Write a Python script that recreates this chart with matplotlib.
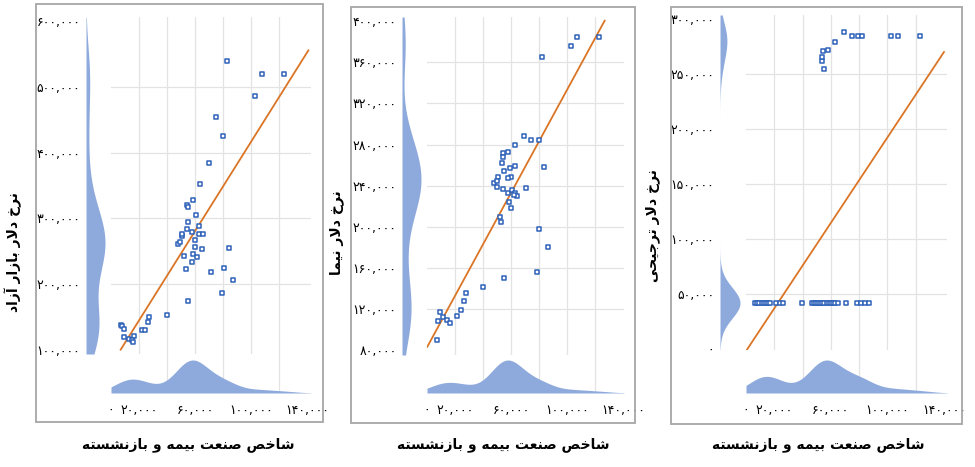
import numpy as np
import matplotlib
matplotlib.use('Agg')
import matplotlib.pyplot as plt
from matplotlib.patches import Rectangle

plt.rcParams['font.family'] = ['DejaVu Sans']

# ---------------- data ----------------
x_title = 'شاخص صنعت بیمه و بازنشسته'
y_titles = ['نرخ دلار بازار آزاد', 'نرخ دلار نیما', 'نرخ دلار ترجیحی']

p1_x = [7100, 8100, 9500, 9500, 13100, 16200, 14800, 15700, 21900, 24300, 26200, 27400, 40200,
        54800, 79300, 87100, 80700, 71200, 84000, 53300, 57600, 52100, 58600, 61700, 59800, 65000,
        47600, 49300, 50700, 50900, 59800, 57900, 63100, 65500, 54000, 62600, 55000, 60700, 54000, 55200, 58600,
        63300, 69800, 80200, 75000, 102900, 82600, 108000, 123600]
p1_y = [138000, 136500, 131500, 120000, 117000, 121000, 114000, 112000, 130000, 130000, 142000, 149000, 152800,
        173600, 186800, 206000, 224000, 218800, 255000, 223000, 234000, 242000, 245600, 241600, 256000, 252700,
        261400, 264500, 272500, 276600, 267500, 279000, 276000, 276000, 283000, 289000, 295000, 304500, 319700, 317000, 328400,
        353000, 385000, 425000, 454000, 487000, 540000, 520000, 520000]

p2_x = [122800, 107000, 102500, 82000, 69300, 74600, 79800, 63100, 58100, 54300,
        54000, 53500, 63100, 59500, 55200, 60200, 58100, 50400, 47800, 50200,
        49700, 54000, 57600, 60900, 63100, 64500, 61900, 70800, 83700,
        58300, 59700, 52100, 52800, 80300, 86500, 78600, 54700, 39900, 27500,
        26300, 24200, 21500, 9300, 7700, 11300, 14300, 16300, 7000]
p2_y = [385000, 385000, 375600, 365500, 288300, 284400, 284400, 279800, 272400, 271400,
        268000, 261700, 259400, 256800, 254200, 248400, 247000, 248700, 242800, 244700,
        238300, 236700, 233000, 235700, 233000, 230000, 230800, 237300, 258000,
        223700, 217900, 209700, 204200, 197400, 180500, 156200, 150400, 141600, 135800,
        127400, 119200, 113100, 116700, 108200, 111800, 109200, 106600, 89700]

p3_x = [55100, 53700, 53900, 54200, 58000, 62900, 69300, 74700, 79400, 81800, 102500, 107200, 123000,
        6500, 8000, 9500, 11000, 12500, 14000, 15500, 17000, 21500, 24000, 26500, 39500,
        46500, 48000, 49500, 51000, 52500, 54000, 55500, 57000, 58500, 60000, 61500, 63000, 65000,
        70700, 78700, 81400, 84100, 86900]
p3_y = [254300, 261800, 265700, 271200, 272000, 279000, 288000, 285000, 285000, 285000, 285000, 285000, 285000,
        42000, 42000, 42000, 42000, 42000, 42000, 42000, 42000, 42000, 42000, 42000, 42000,
        42000, 42000, 42000, 42000, 42000, 42000, 42000, 42000, 42000, 42000, 42000, 42000, 42000,
        42000, 42000, 42000, 42000, 42000]

fit1_x = [6900, 141000]
fit1_y = [100000, 555800]
fit2_x = [200, 126900]
fit2_y = [83200, 400500]
fit3_x = [500, 140000]
fit3_y = [-900, 270000]

x_tick_vals = [0, 20000, 60000, 100000, 140000]
x_grid_vals = [20000, 40000, 60000, 80000, 100000, 120000]
p1_ytick_vals = [100000, 200000, 300000, 400000, 500000, 600000]
p1_ygrid_vals = [200000, 300000, 400000, 500000]
p2_ytick_vals = [80000, 120000, 160000, 200000, 240000, 280000, 320000, 360000, 400000]
p2_ygrid_vals = [120000, 160000, 200000, 240000, 280000, 320000, 360000]
p3_ytick_vals = [0, 50000, 100000, 150000, 200000, 250000, 300000]
p3_ygrid_vals = [50000, 100000, 150000, 200000, 250000]

# ---------------- helpers ----------------
FORMS = {
    'ا': ('\uFE8D', '\uFE8E', None, None),
    'آ': ('\uFE81', '\uFE82', None, None),
    'ب': ('\uFE8F', '\uFE90', '\uFE91', '\uFE92'),
    'ت': ('\uFE95', '\uFE96', '\uFE97', '\uFE98'),
    'ج': ('\uFE9D', '\uFE9E', '\uFE9F', '\uFEA0'),
    'ح': ('\uFEA1', '\uFEA2', '\uFEA3', '\uFEA4'),
    'خ': ('\uFEA5', '\uFEA6', '\uFEA7', '\uFEA8'),
    'د': ('\uFEA9', '\uFEAA', None, None),
    'ر': ('\uFEAD', '\uFEAE', None, None),
    'ز': ('\uFEAF', '\uFEB0', None, None),
    'س': ('\uFEB1', '\uFEB2', '\uFEB3', '\uFEB4'),
    'ش': ('\uFEB5', '\uFEB6', '\uFEB7', '\uFEB8'),
    'ص': ('\uFEB9', '\uFEBA', '\uFEBB', '\uFEBC'),
    'ع': ('\uFEC9', '\uFECA', '\uFECB', '\uFECC'),
    'ل': ('\uFEDD', '\uFEDE', '\uFEDF', '\uFEE0'),
    'م': ('\uFEE1', '\uFEE2', '\uFEE3', '\uFEE4'),
    'ن': ('\uFEE5', '\uFEE6', '\uFEE7', '\uFEE8'),
    'ه': ('\uFEE9', '\uFEEA', '\uFEEB', '\uFEEC'),
    'و': ('\uFEED', '\uFEEE', None, None),
    'ی': ('\uFBFC', '\uFBFD', '\uFBFE', '\uFBFF'),
}
LAM_ALEF = {'ا': ('\uFEFB', '\uFEFC'), 'آ': ('\uFEF5', '\uFEF6')}


def shape(text):
    chars = list(text)
    n = len(chars)
    out = []

    def joins_next(c):
        f = FORMS.get(c)
        return f is not None and f[2] is not None

    i = 0
    while i < n:
        c = chars[i]
        if c not in FORMS:
            out.append(c)
            i += 1
            continue
        pj = i > 0 and joins_next(chars[i - 1])
        if c == 'ل' and i + 1 < n and chars[i + 1] in LAM_ALEF:
            lig = LAM_ALEF[chars[i + 1]]
            out.append(lig[1] if pj else lig[0])
            i += 2
            continue
        nj = FORMS[c][2] is not None and i + 1 < n and chars[i + 1] in FORMS
        iso, fin, ini, med = FORMS[c]
        if pj and nj:
            g = med
        elif pj:
            g = fin
        elif nj:
            g = ini
        else:
            g = iso
        out.append(g)
        i += 1
    return ''.join(reversed(out))


FA = str.maketrans('0123456789', '۰۱۲۳۴۵۶۷۸۹')


def fa_num(v):
    return f'{int(v):,}'.translate(FA)


def kde(vals, grid, bw):
    v = np.asarray(vals, float)
    return np.exp(-0.5 * ((grid[:, None] - v[None, :]) / bw) ** 2).sum(axis=1)


W, H = 975, 467
fig = plt.figure(figsize=(W / 100, H / 100), dpi=100)


def add_px(x0, y0, x1, y1):
    return fig.add_axes([x0 / W, 1 - y1 / H, (x1 - x0) / W, (y1 - y0) / H])


def calib(a_px, a_val, b_px, b_val, p0, p1):
    s = (b_val - a_val) / (b_px - a_px)
    return a_val + (p0 - a_px) * s, a_val + (p1 - a_px) * s


BLUE = '#2e62b8'
ORANGE = '#db7526'
FILL = '#8eaadc'
GRID = '#e3e3e3'
FRAME = '#a6a6a6'

panels = [
    dict(x=p1_x, y=p1_y, fx=fit1_x, fy=fit1_y, yt=p1_ytick_vals, yg=p1_ygrid_vals,
         frame=(36, 4, 323, 422), main=(111, 17, 311, 354), left=86, bot=393,
         xa=(139, 20000, 279, 120000), ya=(284, 200000, 87, 500000),
         bwy=40000, lw_px=19, title_x=188, ytitle=(13, 252)),
    dict(x=p2_x, y=p2_y, fx=fit2_x, fy=fit2_y, yt=p2_ytick_vals, yg=p2_ygrid_vals,
         frame=(351, 7, 635, 423), main=(427, 17, 624, 355), left=402, bot=393,
         xa=(455, 20000, 595, 120000), ya=(309, 120000, 62.3, 360000),
         bwy=28000, lw_px=19, title_x=503, ytitle=(337, 233)),
    dict(x=p3_x, y=p3_y, fx=fit3_x, fy=fit3_y, yt=p3_ytick_vals, yg=p3_ygrid_vals,
         frame=(671, 7, 962, 424), main=(746, 15, 947, 350), left=720, bot=393,
         xa=(774.3, 20000, 915.7, 120000), ya=(294, 50000, 74, 250000),
         bwy=14000, lw_px=20, title_x=818, ytitle=(653, 226)),
]

for k, P in enumerate(panels):
    fx0, fy0, fx1, fy1 = P['frame']
    fig.add_artist(Rectangle((fx0 / W, 1 - fy1 / H), (fx1 - fx0) / W, (fy1 - fy0) / H,
                             transform=fig.transFigure, fill=False, edgecolor=FRAME, lw=1.3))
    mx0, my0, mx1, my1 = P['main']
    xl = calib(*P['xa'], mx0, mx1)
    yl = calib(*P['ya'], my1, my0)

    # main scatter axes
    axm = add_px(mx0, my0, mx1, my1)
    axm.set_xlim(xl)
    axm.set_ylim(yl)
    axm.set_xticks([])
    axm.set_yticks([])
    axm.set_xticks(x_grid_vals, minor=True)
    axm.set_yticks(P['yg'], minor=True)
    axm.grid(which='minor', color=GRID, lw=0.9)
    axm.tick_params(which='both', length=0, labelbottom=False, labelleft=False)
    for s in axm.spines.values():
        s.set_visible(False)
    axm.patch.set_alpha(0)
    axm.plot(P['fx'], P['fy'], color=ORANGE, lw=1.3, zorder=2)
    axm.scatter(P['x'], P['y'], marker='s', s=8, facecolor='white', edgecolor=BLUE,
                linewidths=1.1, zorder=3)

    # left density
    axl = add_px(P['left'], my0, mx0, my1)
    axl.set_axisbelow(True)
    axl.set_ylim(yl)
    yy = np.linspace(yl[0], yl[1], 500)
    ky = kde(P['y'], yy, P['bwy'])
    axl.fill_betweenx(yy, 0, ky, color=FILL, lw=0)
    axl.set_xlim(0, ky.max() * (mx0 - P['left']) / P['lw_px'])
    axl.set_xticks([])
    axl.set_yticks(P['yt'])
    axl.set_yticklabels([fa_num(v) for v in P['yt']], fontsize=9)
    axl.set_yticks(P['yg'], minor=True)
    axl.grid(which='minor', axis='y', color=GRID, lw=0.9)
    axl.tick_params(which='both', length=0, pad=4)
    for s in axl.spines.values():
        s.set_visible(False)
    axl.patch.set_alpha(0)

    # bottom density
    axb = add_px(mx0, my1, mx1, P['bot'])
    axb.set_axisbelow(True)
    axb.set_xlim(xl)
    xx = np.linspace(xl[0], xl[1], 500)
    kx = kde(P['x'], xx, 10000)
    axb.fill_between(xx, 0, kx, color=FILL, lw=0)
    axb.set_ylim(0, kx.max() * (P['bot'] - my1) / 33)
    axb.set_yticks([])
    axb.set_xticks(x_tick_vals)
    axb.set_xticklabels([fa_num(v) for v in x_tick_vals], fontsize=9)
    axb.set_xticks(x_grid_vals, minor=True)
    axb.grid(which='minor', axis='x', color=GRID, lw=0.9)
    axb.tick_params(which='both', length=0, pad=8)
    for s in axb.spines.values():
        s.set_visible(False)
    axb.patch.set_alpha(0)

    # titles
    fig.text(P['title_x'] / W, 1 - 445 / H, shape(x_title), ha='center', va='center',
             fontsize=10, fontweight='bold')
    tx, ty = P['ytitle']
    fig.text(tx / W, 1 - ty / H, shape(y_titles[k]), ha='center', va='center',
             rotation=90, fontsize=10, fontweight='bold')

fig.savefig('out.png', dpi=100)
